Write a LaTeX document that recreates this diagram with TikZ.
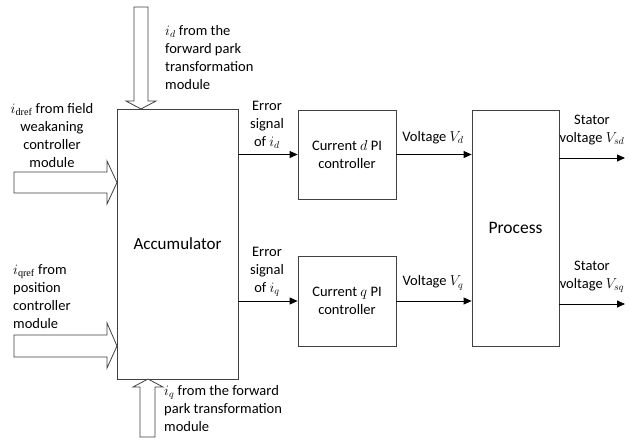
\documentclass[tikz,border=0pt]{standalone}
\usepackage{amsmath}
\usepackage{fontspec}
\setmainfont{Carlito}
\newfontfamily\subserif{Liberation Serif}
\usetikzlibrary{arrows.meta}

\tikzset{
  block/.style={draw=black!75,line width=0.8pt,inner sep=0pt},
  hollow/.style={draw=black!75,line width=0.8pt,fill=white},
  sig/.style={-{Triangle[length=8pt,width=7pt]},line width=0.8pt},
  lbl/.style={inner sep=0pt,font=\fontsize{14.5}{18}\selectfont}
}

\begin{document}
\begin{tikzpicture}[x=1pt,y=-1pt]
\useasboundingbox (0,0) rectangle (630,437);
% blocks
\node[block,minimum width=121pt,minimum height=270pt,font=\fontsize{17}{18}\selectfont] (acc) at (177.5,244) {Accumulator};
\node[block,minimum width=98pt,minimum height=89pt,align=center,font=\fontsize{14.5}{18}\selectfont] (dpi) at (347,154.5) {Current $d$ PI\\controller};
\node[block,minimum width=98pt,minimum height=90pt,align=center,font=\fontsize{14.5}{18}\selectfont] (qpi) at (347,301) {Current $q$ PI\\controller};
\node[block,minimum width=87pt,minimum height=236pt,font=\fontsize{17.5}{18}\selectfont] (proc) at (515.5,228) {Process};
% outputs
\coordinate (outd) at (625,158);
\coordinate (outq) at (625,304);
% hollow input arrows
\draw[hollow] (141,109) -- (126,101) -- (134,101) -- (134,7) -- (148,7) -- (148,101) -- (156,101) -- cycle;
\draw[hollow] (117,182.5) -- (107,161) -- (107,172) -- (14,172) -- (14,193) -- (107,193) -- (107,204) -- cycle;
\draw[hollow] (117,346) -- (107,323) -- (107,335) -- (14,335) -- (14,357) -- (107,357) -- (107,368) -- cycle;
\draw[hollow] (148,379) -- (133,387) -- (140,387) -- (140,437) -- (155,437) -- (155,387) -- (163,387) -- cycle;
% signals
\draw[sig] (dpi.west -| acc.east) -- (dpi.west);
\draw[sig] (qpi.west -| acc.east) -- (qpi.west);
\draw[sig] (dpi.east) -- (dpi.east -| proc.west);
\draw[sig] (qpi.east) -- (qpi.east -| proc.west);
\draw[sig] (outd -| proc.east) -- (outd);
\draw[sig] (outq -| proc.east) -- (outq);
% labels
\node[lbl,anchor=north west,align=left] (tid) at (165,25) {$i_d$ from the\\forward park\\transformation\\module};
\node[lbl,anchor=north,align=center] (tidref) at (52,103) {$i_{\text{\subserif dref}}$ from field\\weakaning\\controller\\module};
\node[lbl,anchor=north west,align=left] (tiqref) at (13,264) {$i_{\text{\subserif qref}}$ from\\position\\controller\\module};
\node[lbl,anchor=north west,align=left] (tiq) at (164,385) {$i_q$ from the forward\\park transformation\\module};
\node[lbl,anchor=north,align=center] (errd) at (267,101) {Error\\signal\\of $i_d$};
\node[lbl,anchor=north,align=center] (errq) at (267,247) {Error\\signal\\of $i_q$};
\node[lbl] (vd) at (433,138) {Voltage $V_d$};
\node[lbl] (vq) at (433,283) {Voltage $V_q$};
\node[lbl,anchor=north,align=center] (vsd) at (592,115) {Stator\\voltage $V_{sd}$};
\node[lbl,anchor=north,align=center] (vsq) at (592,261) {Stator\\voltage $V_{sq}$};
\end{tikzpicture}
\end{document}
